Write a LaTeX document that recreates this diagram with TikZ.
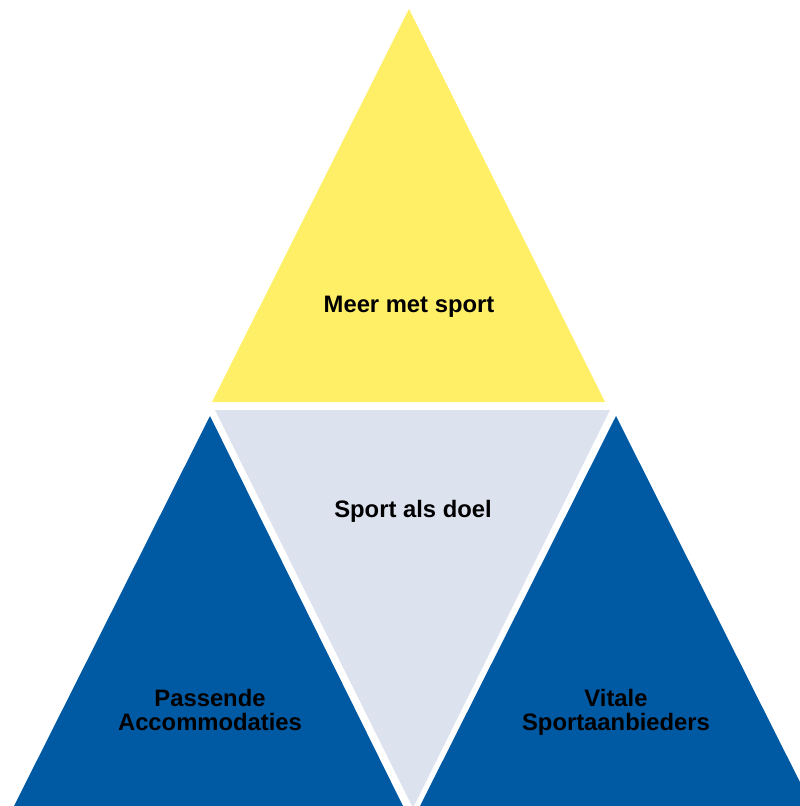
\documentclass[tikz,border=0pt]{standalone}
\usepackage{fontspec}
\setmainfont{Liberation Sans}
\definecolor{tyellow}{HTML}{FFEF66}
\definecolor{tgray}{HTML}{DDE2EF}
\definecolor{tblue}{HTML}{005AA3}
\begin{document}
\begin{tikzpicture}[x=1pt,y=-1pt,
  lbl/.style={font=\fontsize{23.8}{23.5}\selectfont\bfseries, align=center, text=black, inner sep=0pt, anchor=base}]
\useasboundingbox (0,0) rectangle (800,806);
\begin{scope}
\clip (0,0) rectangle (800,806);
\fill[tyellow] (409,9) -- (212,402) -- (605,402) -- cycle;
\fill[tgray] (215,410) -- (610,410) -- (413,808) -- cycle;
\fill[tblue] (210,416) -- (403,806) -- (14,806) -- cycle;
\fill[tblue] (616,416) -- (812,806) -- (420,806) -- cycle;
\end{scope}
\node[lbl] (top) at (409,312) {Meer met sport};
\node[lbl] (mid) at (413,517) {Sport als doel};
\node[lbl] (left) at (210,730) {Passende\\Accommodaties};
\node[lbl] (right) at (616,730) {Vitale\\Sportaanbieders};
\end{tikzpicture}
\end{document}
